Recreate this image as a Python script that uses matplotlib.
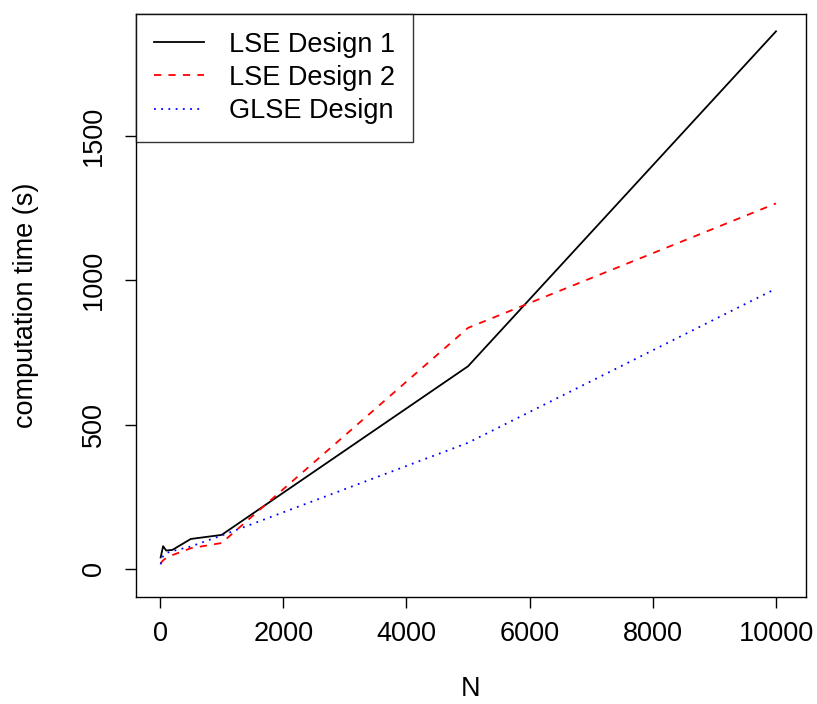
import matplotlib
matplotlib.use("Agg")
import matplotlib.pyplot as plt

plt.rcParams['font.family'] = ['Liberation Sans', 'DejaVu Sans']

N = [10, 50, 100, 200, 500, 1000, 5000, 10000]
lse1 = [40, 79, 64, 66, 104, 118, 702, 1862]
lse2 = [20, 30, 38, 48, 72, 90, 835, 1266]
glse = [16, 45, 55, 62, 78, 116, 437, 971]

FS = 19.5
fig = plt.figure(figsize=(8.17, 7.04), dpi=100)
ax = fig.add_axes([136/817, 1-597/704, (806-136)/817, (597-14)/704])

ax.plot(N, lse1, color='black', lw=1.3, linestyle='-', label='LSE Design 1')
ax.plot(N, lse2, color='red', lw=1.3, linestyle=(0, (4, 4)), label='LSE Design 2')
ax.plot(N, glse, color='blue', lw=1.3, linestyle=(0, (1, 3)), label='GLSE Design')

ax.set_xlim(-390, 10487)
ax.set_ylim(-97, 1922)
ax.set_xticks([0, 2000, 4000, 6000, 8000, 10000])
ax.set_yticks([0, 500, 1000, 1500])
ax.tick_params(direction='out', length=8, width=1, labelsize=FS)
ax.tick_params(axis='x', pad=9)
ax.tick_params(axis='y', pad=13)
for lbl in ax.get_yticklabels():
    lbl.set_rotation(90)
    lbl.set_va('center')
for s in ax.spines.values():
    s.set_linewidth(1)
ax.set_xlabel('N', fontsize=FS, labelpad=21)
ax.set_ylabel('computation time (s)', fontsize=FS, labelpad=30)

leg = ax.legend(loc='upper left', bbox_to_anchor=(0, 1), fontsize=FS, frameon=True,
                fancybox=False, edgecolor='black', handlelength=1.85, handletextpad=0.95,
                borderaxespad=0, labelspacing=0.27, borderpad=0.65)
leg.get_frame().set_linewidth(1)

fig.savefig('out.png', dpi=100)
